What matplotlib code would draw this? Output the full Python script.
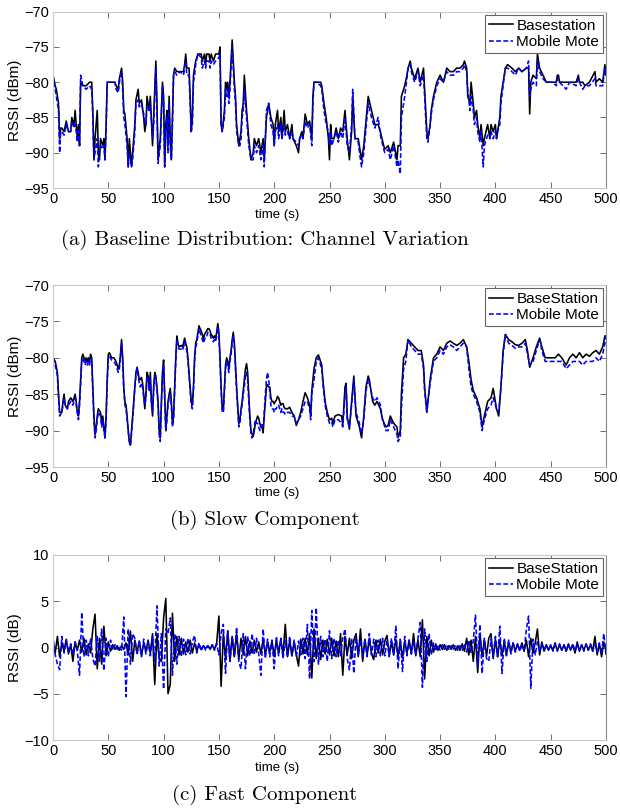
import numpy as np
import matplotlib
matplotlib.use("Agg")
import matplotlib.pyplot as plt

plt.rcParams['font.family'] = ['Liberation Sans', 'DejaVu Sans']

# ---- (a) baseline distribution: channel variation ----
ta = [0, 2, 3, 5, 6, 7, 8, 10, 12, 14,
      16, 17, 19, 20, 21, 22, 23, 24, 25, 27,
      30, 33, 35, 36, 37, 38, 40, 41, 42, 43,
      45, 46, 47, 48, 49, 52, 56, 57, 59, 60,
      62, 63, 64, 65, 67, 68, 69, 71, 72, 74,
      75, 77, 78, 80, 82, 83, 84, 85, 87, 88,
      90, 91, 93, 94, 95, 97, 99, 100, 101, 102,
      103, 104, 105, 106, 107, 108, 109, 110, 112, 115,
      118, 119, 120, 121, 123, 124, 125, 126, 127, 128,
      129, 131, 134, 135, 137, 138, 139, 141, 142, 143,
      145, 147, 150, 151, 152, 153, 155, 156, 157, 158,
      159, 160, 161, 162, 164, 165, 166, 168, 169, 170,
      171, 172, 173, 175, 177, 179, 181, 182, 184, 186,
      188, 190, 191, 193, 195, 197, 199, 200, 201, 203,
      204, 206, 207, 209, 210, 212, 214, 216, 217, 220,
      222, 223, 225, 226, 228, 230, 232, 234, 235, 236,
      238, 242, 243, 245, 247, 249, 250, 251, 252, 254,
      256, 258, 260, 262, 264, 266, 268, 270, 271, 273,
      276, 278, 279, 281, 285, 288, 291, 294, 296, 299,
      300, 303, 305, 308, 311, 312, 314, 315, 318, 320,
      321, 323, 324, 327, 330, 332, 335, 336, 338, 339,
      341, 342, 344, 347, 350, 353, 356, 359, 362, 365,
      368, 371, 372, 374, 375, 377, 378, 380, 381, 383,
      384, 386, 387, 389, 390, 393, 395, 396, 398, 400,
      401, 402, 404, 405, 407, 409, 411, 415, 418, 421,
      424, 428, 430, 431, 432, 434, 437, 438, 440, 443,
      446, 452, 455, 456, 457, 458, 464, 467, 473, 475,
      476, 479, 481, 485, 490, 491, 494, 497, 499, 500]
base_a = [-79, -80.5, -81, -83, -88, -86.5, -86.5, -87, -85.5, -87,
          -87, -85, -86, -84, -86, -88, -86, -89, -80, -80.5,
          -80.5, -80, -80, -84, -91, -88, -84, -90, -91, -88,
          -89, -88, -91, -86, -80, -80, -80, -80.5, -81, -79.5,
          -78, -80, -84, -84.5, -88, -92, -88, -92, -90, -86,
          -82.5, -81, -83, -82.5, -85, -87, -86, -82, -84, -82,
          -89, -85, -77, -83, -91, -88, -80, -82, -92, -86,
          -84, -89, -82, -88, -91, -85, -79, -78, -78.5, -78.5,
          -78.5, -77.5, -76, -78, -78, -82, -87, -85, -79, -78,
          -77, -76, -76, -77, -76, -77.5, -76, -76, -77, -76,
          -77, -76, -76, -75, -86, -87, -84, -80, -81, -80,
          -82, -80, -77, -74, -80, -82, -86, -89, -88, -87,
          -84, -83, -79, -84, -88, -91, -90, -88, -89, -88,
          -90, -88, -91, -85, -83, -85, -86, -89, -86, -84,
          -87, -85, -88, -84, -87, -86, -88, -86, -88, -89,
          -90, -88, -87, -88, -84.5, -86, -85.5, -88, -82, -80,
          -80, -80, -80.5, -83, -85, -88, -91, -86, -88, -88,
          -86.5, -88, -86.5, -87, -84, -88, -91, -87, -82, -88,
          -88, -90, -91, -89, -82, -84, -86, -86, -87, -89,
          -89.5, -89, -90, -88.5, -91, -89, -89, -82, -80.5, -79,
          -78, -77, -78, -79.5, -78, -80, -78, -81, -87, -88,
          -86, -84, -82, -80, -79, -80, -78, -78.5, -78.5, -78,
          -78, -77.5, -77, -78, -82, -83, -80, -83, -85, -84,
          -86, -88, -86, -89, -88, -86, -88, -86, -87, -86,
          -88, -87, -85, -82, -80, -78, -77.5, -78, -78.5, -78,
          -78.5, -78, -78, -84.5, -80, -79, -79.5, -76, -78, -79,
          -80, -80, -80, -79, -79, -80, -80, -80, -80, -79,
          -80, -80, -80.5, -80, -78.5, -80, -79.5, -80, -77.5, -79]
mote_a = [-79, -81, -82, -84, -90, -87, -87, -87.5, -86, -87,
          -87, -85.5, -86.5, -86, -87, -88.5, -87, -89, -79, -80.5,
          -81, -80.5, -81, -85, -91, -90, -88, -92, -90, -89,
          -89.5, -89, -91, -87, -80, -80, -80, -81, -81.5, -80,
          -78.5, -81, -85, -86, -89, -92, -90, -92, -91, -87,
          -83, -82.5, -83.5, -83, -84.5, -86, -86, -83.5, -84, -83,
          -88, -86, -78, -84, -91.5, -89, -80.5, -83, -92, -87,
          -85, -90, -83, -89, -91, -86, -79, -78.5, -79, -78.5,
          -79, -78, -77, -79, -79, -83, -87, -86, -80, -79,
          -77.5, -76, -76.5, -78, -77, -78, -77, -77, -78, -77,
          -77.5, -77, -76.5, -76, -86, -87, -85, -81, -82, -81,
          -83, -81, -78, -75, -81, -83, -87, -89, -89, -88,
          -85, -84, -81, -85, -89, -91, -91, -89, -90, -89,
          -91, -89, -92, -84, -83, -86, -87, -89, -87, -86,
          -88, -86, -88, -86, -87.5, -87, -88, -87, -88, -88.5,
          -89, -88, -87.5, -88, -85.5, -86.5, -86, -89, -83, -80,
          -80, -80.5, -81, -84, -86, -87, -89, -87, -89, -88,
          -87, -88.5, -87, -88, -85, -89, -90, -86, -81, -88,
          -88.5, -91, -92, -90, -83, -85, -86.5, -85, -87.5, -89.5,
          -90, -89.5, -91, -89, -92, -91, -93, -85, -82, -79.5,
          -78, -77.5, -78.5, -80, -78.5, -80.5, -79, -82, -88, -88.5,
          -86, -84.5, -82.5, -80.5, -79.5, -80, -78.5, -79, -79, -78.5,
          -78.5, -78, -77.5, -78.5, -81, -84, -82, -84, -86, -85,
          -87, -88.5, -87, -92, -89, -87.5, -88, -87, -88, -87,
          -88, -87, -86, -83, -80.5, -78, -78, -78.5, -79, -78,
          -78.5, -78, -77, -82, -81, -80, -80.5, -77, -78.5, -79.5,
          -80, -80, -80.5, -79.5, -80, -80, -81, -80, -80.5, -79.5,
          -80, -81, -80.5, -80.5, -79.5, -80.5, -80.5, -80.5, -78, -79]

# ---- (b) slow component ----
tb = [0, 2, 4, 5, 6, 8, 9, 10, 11, 13,
      14, 16, 18, 20, 21, 22, 23, 24, 25, 26,
      27, 28, 29, 30, 31, 32, 33, 34, 35, 36,
      37, 38, 39, 40, 41, 43, 44, 45, 46, 47,
      48, 49, 50, 51, 53, 55, 57, 58, 59, 60,
      61, 62, 63, 64, 65, 66, 67, 68, 69, 70,
      71, 72, 73, 74, 75, 76, 77, 78, 79, 80,
      81, 82, 83, 84, 85, 86, 87, 88, 89, 90,
      91, 92, 93, 94, 95, 96, 97, 98, 99, 100,
      101, 102, 103, 104, 105, 106, 107, 108, 109, 110,
      111, 112, 113, 114, 116, 117, 118, 119, 120, 121,
      122, 123, 124, 125, 126, 127, 128, 129, 130, 131,
      132, 133, 134, 135, 136, 137, 138, 139, 140, 141,
      142, 143, 144, 145, 146, 147, 148, 149, 150, 151,
      152, 153, 154, 155, 156, 157, 158, 159, 160, 161,
      162, 163, 164, 165, 166, 167, 168, 169, 170, 171,
      172, 173, 174, 175, 176, 177, 178, 179, 180, 181,
      182, 183, 184, 185, 186, 187, 188, 189, 190, 191,
      192, 193, 194, 195, 196, 197, 198, 199, 200, 201,
      202, 203, 204, 205, 206, 207, 208, 209, 210, 212,
      214, 216, 218, 220, 222, 224, 226, 228, 230, 232,
      233, 234, 236, 238, 240, 243, 244, 246, 248, 250,
      252, 253, 255, 258, 261, 262, 264, 265, 266, 268,
      270, 272, 274, 277, 279, 281, 283, 285, 286, 289,
      291, 293, 296, 298, 301, 303, 305, 308, 311, 312,
      314, 315, 317, 319, 321, 324, 327, 330, 333, 335,
      336, 338, 339, 341, 344, 347, 350, 353, 356, 359,
      362, 365, 368, 371, 374, 376, 378, 380, 383, 386,
      388, 390, 393, 396, 398, 401, 403, 405, 407, 409,
      412, 415, 418, 421, 424, 427, 429, 431, 434, 437,
      440, 442, 445, 449, 454, 457, 460, 464, 467, 470,
      473, 476, 479, 482, 485, 488, 491, 494, 497, 499, 500]
base_b = [-80, -80.5, -82, -85, -87.5, -87.5, -86, -85, -86.5, -87,
          -86, -85.5, -86, -85, -86, -87.5, -88, -86, -83, -80,
          -79.5, -80, -80.5, -80, -80.5, -80, -80.5, -79.5, -80, -84,
          -88, -90.5, -89.5, -88, -87, -87.5, -89, -88, -89.5, -91,
          -88, -83, -79.5, -79.3, -80, -80, -80.5, -81, -81.5, -81,
          -79.5, -77.5, -80, -84, -86, -86.5, -88, -90, -91.5, -92,
          -90, -88, -86, -84, -82, -81.3, -82, -83, -83, -82.7,
          -83.5, -85, -87, -85, -82, -82.5, -84.5, -82, -86, -88,
          -84, -82, -82.5, -84, -86, -90, -91, -86, -82, -80.3,
          -85, -90, -88, -86, -85, -84.2, -86, -89, -88, -84,
          -80, -77, -78, -78.5, -78.3, -78.5, -78, -77.3, -78, -78.5,
          -80, -82, -84, -86, -86.5, -84, -80, -78, -77.5, -76.5,
          -75.6, -76, -76.3, -76.8, -77.5, -76.8, -76.5, -76.3, -76, -76,
          -76.3, -76.8, -77, -77.3, -77, -77.3, -76.5, -75.3, -76.5, -80,
          -84, -87, -87.3, -84, -81, -80, -80.5, -81.5, -80, -79,
          -77.5, -76.5, -78, -81, -84, -86.5, -89, -88.5, -87, -86,
          -84.5, -83, -81.5, -80.8, -82, -85, -88, -90, -90.5, -90.8,
          -90, -89, -88.5, -88, -88.3, -89, -89.5, -89.5, -90.3, -88,
          -86, -84, -83.7, -84, -84, -85.5, -86, -86, -86.3, -86,
          -85.8, -85.3, -85.5, -86, -86.5, -86.3, -86.3, -86.8, -87, -87,
          -86.8, -87.5, -88, -89.3, -88.5, -87.5, -86, -84.8, -85.5, -86.5,
          -88, -84.5, -81.5, -80, -79.6, -81, -83, -86, -87.5, -88.5,
          -88.3, -89, -88, -87.8, -88, -89.3, -84, -83.5, -88, -89.8,
          -86, -82.5, -88, -89.5, -91, -88, -84, -82.5, -83, -86,
          -86.5, -86, -87, -88.5, -89.5, -89.3, -88, -89, -89.5, -91,
          -90, -85, -80, -79.5, -77.5, -78, -78.5, -79, -79, -81,
          -84, -87.5, -86, -83, -80, -79.5, -78.5, -79, -78, -77.7,
          -78, -78.3, -78, -77.5, -78.5, -80.5, -83, -84.5, -85.5, -87,
          -89.5, -88, -86, -85.5, -84.2, -87, -88, -84, -79, -76.8,
          -77.5, -77.8, -78.2, -78.3, -78, -77.5, -79, -81.3, -80, -78.5,
          -77.3, -78.5, -80, -80, -80, -79.5, -80, -81, -80, -79.5,
          -80, -79.3, -80, -79.5, -79.8, -79.3, -79, -79.5, -78.5, -77, -77]
mote_b = [-80, -81, -82.5, -85.5, -88, -87.5, -86.5, -85.5, -86.5, -87,
          -86.5, -86, -86.5, -85.5, -86.5, -87.5, -88.5, -86.5, -83.5, -80.5,
          -80, -80.5, -81, -80.5, -81, -80.5, -81, -80, -80.5, -84.5,
          -88.5, -91, -90, -88.5, -87.5, -88, -89.5, -88.5, -90, -91,
          -88.5, -83.5, -80, -79.8, -80.3, -80.5, -81, -81.5, -82, -81.5,
          -80, -78, -80.5, -84.5, -86.5, -87, -88.5, -90, -91.5, -92,
          -90.5, -88.5, -86.5, -84, -82.5, -81.5, -82.5, -83.5, -84, -83.5,
          -84, -85.5, -86.5, -85.5, -82.5, -83, -84.5, -83, -86.5, -87.5,
          -84.5, -82.5, -83, -84.5, -86.5, -90.5, -91.5, -86.5, -82.5, -81,
          -85.5, -90, -88.5, -86.5, -85.5, -85, -86.5, -89.5, -88.5, -84.5,
          -80.5, -77.5, -78.5, -78.8, -78.8, -79, -78.5, -77.8, -78.5, -79,
          -80.5, -82.5, -84.5, -86.5, -87, -84.5, -80.5, -78.5, -78, -77,
          -76, -76.5, -77, -77.5, -78, -77.5, -77, -77, -76.5, -76.5,
          -76.8, -77.3, -77.5, -77.8, -77.5, -77.8, -77, -75.8, -77, -80.5,
          -84.5, -87.5, -87.5, -84.5, -81.5, -80.5, -81, -82, -80.5, -79.5,
          -78, -77, -78.5, -81.5, -84.5, -87, -89.5, -89, -87.5, -86.5,
          -85, -84, -82.5, -82, -83, -86, -88.5, -90.5, -91, -90.5,
          -89.5, -88.5, -89, -89, -89.5, -90, -90, -89, -89.5, -87.5,
          -85, -83, -82, -83, -84.5, -86.5, -87, -87, -87.5, -87,
          -87, -86.5, -86.5, -87, -87.5, -87, -87.5, -87.5, -87.8, -87.5,
          -87.5, -88, -88, -89, -88.5, -88, -87, -86, -86, -87,
          -88.5, -85, -83, -80.5, -80, -81.5, -83.5, -86.5, -88, -89,
          -88.8, -89.5, -88.5, -88.5, -89, -89.5, -85, -84, -88.5, -89.5,
          -86.5, -83, -87.5, -89, -90.5, -88.5, -84.5, -83, -83.5, -85.5,
          -86, -85.5, -86.5, -88.5, -90, -90, -88.5, -89.5, -90.5, -91.5,
          -91, -87, -81.5, -80.5, -77.5, -78.5, -79, -79.5, -79.5, -81.5,
          -84.5, -87.5, -86, -83.5, -80.5, -80, -79, -79.5, -78.5, -78.2,
          -78.5, -79, -78.5, -78, -78.5, -81.5, -84, -85, -86, -87.5,
          -90, -88.5, -87, -86.5, -85.5, -87, -87.5, -84, -79.5, -76.8,
          -78, -78.3, -78.7, -78.5, -78.5, -78, -79.5, -81, -80.5, -79,
          -77.5, -79, -80.5, -80.5, -80.5, -80.5, -80.5, -81.5, -81, -80.5,
          -80.5, -80.5, -81, -80.5, -80.5, -80.5, -80, -80.5, -79.5, -78, -77]

# ---- (c) fast component, one sample every 2 s ----
tc = np.arange(0, 501, 2)
base_c = [0.8, -0.6, 1.2, -1.0, 0.5, -0.4, 0.9, -0.7, 0.3, -1.5, 0.6, -0.3, 0.8, -0.5, 1.0, -0.8, 0.4, -0.6, 2.0, 3.6, -2.3, 1.0, -1.8, 2.3, -0.9,
          0.6, -0.4, 0.3, -0.2, 0.2, -0.3, 0.2, -0.2, 0.5, -0.8, 1.8, -1.5, 0.8, -0.6, 0.7, -0.9, 0.5, -0.4, 0.8, -0.6, 1.5, -4.0, 1.5, -1.2, -1.5,
          3.2, 5.3, -5.0, -4.0, 3.7, -1.5, 1.2, -0.8, 1.0, -0.7, 0.6, -0.5, 0.8, -0.6, 0.5, -0.4, 0.3, -0.2, 0.2, -0.1, 0.2, -0.2, 0.3, -0.2, 0.5,
          3.4, -4.2, 1.5, -1.2, 1.8, -1.5, 1.2, -1.0, 1.5, -1.3, 1.0, -0.8, 1.2, -0.9, 0.7, -0.6, 0.8, -0.5, 0.6, -0.7, 0.9, -0.8, 0.6, -0.5, 0.7,
          -1.0, 0.8, -0.6, 0.9, -0.8, 2.5, -1.0, 0.7, -0.9, 0.6, -0.8, -2.0, 0.9, -0.7, 1.0, -0.8, 1.5, -3.3, 2.0, -1.2, 1.0, -1.3, 0.8, -0.7, 0.9,
          -0.8, 1.0, -0.9, 0.7, -1.0, 1.5, -3.0, 1.2, -0.8, 1.0, -1.2, 0.8, 1.5, -1.0, 2.0, -1.5, 0.9, -0.8, 1.0, -0.7, -1.3, 0.8, -0.6, 0.9, -0.8,
          0.7, 1.3, -0.9, 0.6, -0.8, 0.9, -1.0, 0.8, -1.2, 0.7, -0.6, 0.8, -0.7, 1.5, -0.9, 0.8, -1.0, 3.0, -3.4, 1.2, -0.9, 0.8, -0.5, 0.4, -0.3,
          0.3, -0.2, 0.3, -0.3, 0.2, -0.2, 0.3, -0.3, 0.2, -0.3, 0.4, -0.4, 1.0, -0.8, 0.8, -1.5, 1.2, -2.7, 1.5, -1.0, 0.8, -0.9, 1.0, 1.5, -1.2,
          0.9, -1.0, 0.8, -0.9, 0.7, -0.8, 0.6, -0.5, 0.5, -0.4, 0.4, -0.3, 0.5, -0.4, 0.8, -1.0, 1.0, -0.6, 0.5, 2.0, -0.8, 0.6, -0.4, 0.3, -0.3,
          0.2, -0.3, 0.5, -0.4, 0.3, -0.3, 0.3, -0.4, 0.4, -0.3, 0.3, -0.6, 0.6, -0.4, 0.3, -0.3, 0.4, -0.3, 0.3, -0.4, 1.2, -0.8, 0.4, -1.0, 0.6, -0.3]
mote_c = [1.0, -0.8, -1.8, -2.4, 1.2, -0.6, 0.8, -0.5, 0.4, -0.7, 0.6, -0.4, -3.0, 3.8, -1.0, 0.8, -0.9, 1.0, -1.2, -2.0, 1.2, -1.5, 2.0, -2.5, 1.0,
          -1.0, 0.8, -0.3, 0.3, -0.2, 0.2, -0.3, 3.3, -5.3, 2.0, -1.8, 1.5, 1.0, -0.8, 0.7, -1.0, 0.9, -0.7, 0.6, -0.9, 1.2, -1.5, 4.5, -2.0, 1.5,
          -4.5, 2.0, 1.5, 3.2, -3.0, 1.5, -1.8, 1.2, -1.0, 0.9, -0.8, 1.0, -0.7, 0.6, 1.3, -0.6, 0.5, -0.4, 0.3, -0.3, 0.2, -0.2, 0.3, -0.3, 0.4,
          -0.8, 1.5, 2.5, -2.8, 1.8, -1.5, 1.2, -1.0, 2.2, -1.6, -2.3, 1.5, -2.3, 1.2, -0.9, 1.5, -0.8, 1.0, -0.7, -3.0, 2.0, -1.2, 0.9, -1.0, 0.8,
          -2.3, 1.2, -0.9, 1.0, -1.2, 0.8, -1.0, 1.2, -0.9, 0.8, -1.0, 0.7, -0.8, 1.0, -1.2, 2.5, -3.4, 4.0, -1.5, 4.3, -1.8, 1.2, -1.0, 0.9, -1.5,
          1.8, -1.2, 1.0, -1.0, 0.8, -0.9, 1.0, 2.0, -1.2, -2.4, 1.0, -2.8, 1.2, -0.9, 0.8, -1.0, 0.9, -1.0, 1.5, -0.8, 0.9, -1.0, 0.8, -0.9, 1.0,
          -0.9, 0.8, -1.0, 1.0, -0.8, 2.3, -2.3, 0.9, -2.6, 1.2, -0.9, 0.8, -0.7, 0.6, -0.8, 1.0, 2.7, -4.3, 2.0, -1.5, 1.5, -0.8, 0.5, -0.4, 0.3,
          -0.3, 0.3, -0.2, 0.3, -0.3, 0.2, -0.2, 0.3, -0.3, 0.2, -0.3, 0.4, -0.5, 0.8, -0.6, 0.7, 3.5, -2.0, 2.5, -2.8, 1.0, -1.2, -1.5, 0.9, -1.0,
          1.2, -1.0, 2.3, -2.8, 1.0, -0.9, 0.8, -0.7, 0.5, -0.5, 0.4, -0.4, 0.3, -0.4, 2.0, 3.4, -4.4, 0.9, -0.8, 0.6, -0.5, 0.4, -0.3, 0.3, -0.3,
          0.3, -0.4, 0.3, -0.3, 0.4, -0.3, 0.3, -0.4, 0.3, -0.3, 0.4, -0.4, 0.3, -0.3, 0.3, -0.4, 0.3, -0.3, 0.4, -0.4, 0.3, -0.5, 0.5, -0.6, 1.5, -0.8]

xticks = np.arange(0, 501, 50)

W, H = 620, 811
fig = plt.figure(figsize=(W / 100, H / 100), dpi=100)


def panel(top, bottom, t, k, b, names, ylim, yticks, ylabel, caption, xl_y, cap_y):
    ax = fig.add_axes([53 / W, 1 - bottom / H, 553 / W, (bottom - top) / H])
    ax.plot(t, k, color='black', lw=1.15, label=names[0])
    ax.plot(t, b, color='#0000ff', lw=1.15, ls=(0, (3, 1.5)), label=names[1])
    ax.set_xlim(0, 500)
    ax.set_ylim(*ylim)
    ax.set_xticks(xticks)
    ax.set_yticks(yticks)
    ax.tick_params(direction='in', length=4, width=0.6, color='#555555',
                   labelsize=10.5, top=True, right=True, pad=3)
    for s in ax.spines.values():
        s.set_color('#c8c8c8')
        s.set_linewidth(0.8)
    ax.spines['right'].set_color('#888888')
    leg = ax.legend(loc='upper right', fontsize=11, handlelength=1.6,
                    handletextpad=0.2, borderpad=0.25, labelspacing=0.15,
                    borderaxespad=0.2, fancybox=False, framealpha=1)
    leg.get_frame().set_edgecolor('#666666')
    leg.get_frame().set_linewidth(0.8)
    fig.text(15 / W, 1 - (top + bottom) / 2 / H, ylabel, rotation=90,
             ha='center', va='center', fontsize=11)
    fig.text(277 / W, 1 - xl_y / H, 'time (s)', ha='center', va='center', fontsize=9.5)
    fig.text(265 / W, 1 - cap_y / H, caption, ha='center', va='center',
             fontsize=15, family='cmr10')
    return ax


panel(11.7, 188, ta, base_a, mote_a, ['Basestation', 'Mobile Mote'], (-95, -70),
      np.arange(-95, -69, 5), 'RSSI (dBm)',
      '(a) Baseline Distribution: Channel Variation', 215, 240)
panel(285, 467, tb, base_b, mote_b, ['BaseStation', 'Mobile Mote'], (-95, -70),
      np.arange(-95, -69, 5), 'RSSI (dBm)', '(b) Slow Component', 493, 520)
panel(555, 740, tc, base_c, mote_c, ['BaseStation', 'Mobile Mote'], (-10, 10),
      np.arange(-10, 11, 5), 'RSSI (dB)', '(c) Fast Component', 768, 795)

fig.savefig('out.png', dpi=100)
